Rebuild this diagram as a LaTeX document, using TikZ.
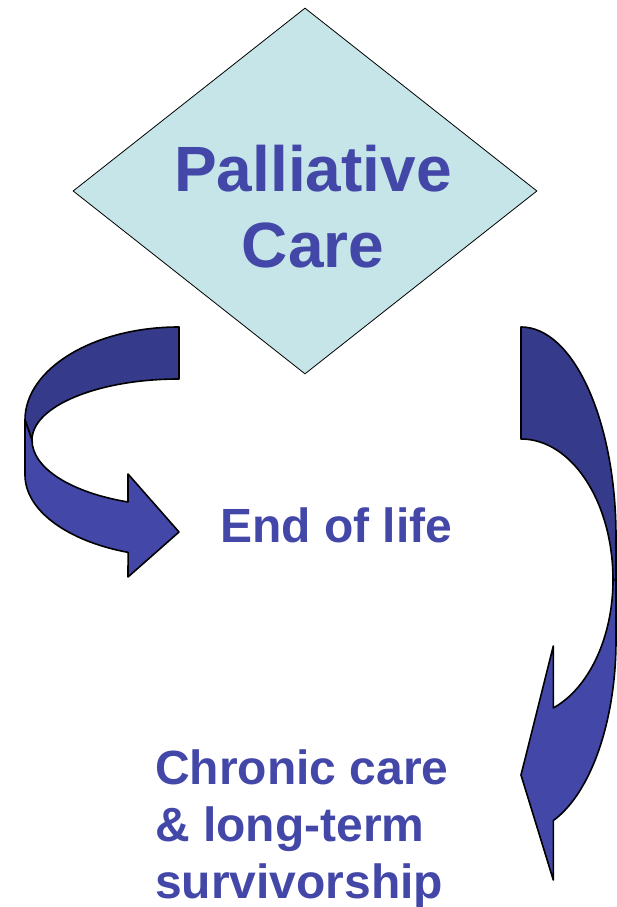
\documentclass[tikz,border=0pt]{standalone}
\usepackage{fontspec}
\setmainfont{Liberation Sans}
\usetikzlibrary{shapes.geometric}
\definecolor{palebox}{RGB}{197,229,232}
\definecolor{bandback}{RGB}{54,58,138}
\definecolor{bandfront}{RGB}{67,71,168}
\begin{document}
\begin{tikzpicture}[x=1pt,y=1pt,every node/.style={inner sep=0pt},
  band/.style={draw=black,line width=1.6pt,line join=round},
  words/.style={text=bandfront,font=\bfseries\fontsize{48}{57}\selectfont,align=left,anchor=base west}]
  \useasboundingbox (0,0) rectangle (617,907);

  \node[diamond,draw,line width=0.8pt,fill=palebox,minimum width=464pt,minimum height=366pt] (pc) at (305,716) {};
  \node[text=bandfront,font=\bfseries\fontsize{64}{76}\selectfont,align=center,anchor=base] (pctitle) at (313,639) {Palliative\\Care};

  % left arrow
  \filldraw[band,fill=bandback] (179,580) arc[start angle=90,end angle=180,x radius=154,y radius=93]
    -- (32,467) arc[start angle=180,end angle=90,x radius=147,y radius=61] -- cycle;
  \filldraw[band,fill=bandfront] (25,487) -- (25,432) arc[start angle=180,end angle=250.7,x radius=154,y radius=82]
    -- (128,330) -- (179,375) -- (128,433) -- (128,405)
    arc[start angle=249.7,end angle=180,x radius=147,y radius=66] -- cycle;

  % right arrow
  \filldraw[band,fill=bandback] (521,580) arc[start angle=90,end angle=0,x radius=95,y radius=210]
    -- (616,327) -- (613,327) arc[start angle=0,end angle=90,x radius=92,y radius=141] -- cycle;
  \filldraw[band,fill=bandfront] (616,327) -- (616,267) arc[start angle=0,end angle=-70.1,x radius=95,y radius=192]
    -- (553.3,27) -- (521,132) -- (553.3,261) -- (553.3,199)
    arc[start angle=-69.45,end angle=0,x radius=92,y radius=137] -- cycle;

  \node[words] (eol) at (220,364) {End of life};
  \node[words] (chronic) at (155,9) {Chronic care\\\& long-term\\survivorship};

\end{tikzpicture}
\end{document}
